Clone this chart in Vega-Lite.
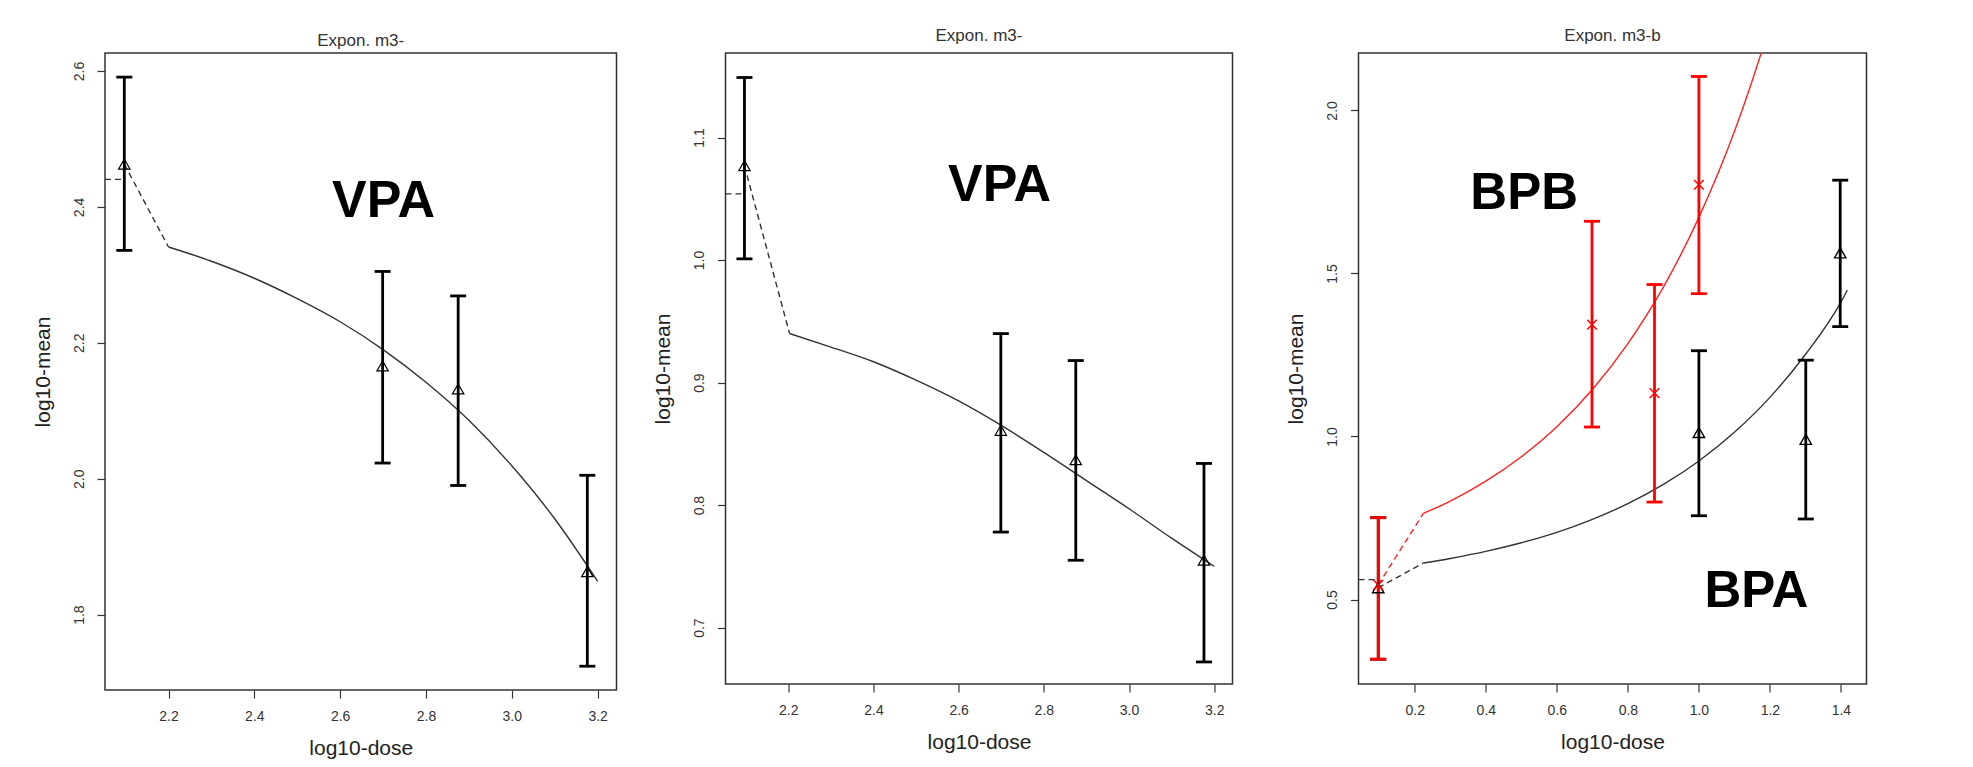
{
  "$schema": "https://vega.github.io/schema/vega-lite/v6.json",
  "background": "white",
  "padding": {"left": 31, "top": 26, "right": 5, "bottom": 5},
  "config": {
    "view": {"stroke": "#333", "strokeWidth": 1.5},
    "font": "Liberation Sans",
    "axis": {
      "grid": false, "domain": false,
      "tickColor": "#333", "tickSize": 8, "tickWidth": 1.2,
      "labelFont": "Liberation Sans", "labelFontSize": 14, "labelColor": "#333",
      "labelFlush": false, "labelBaseline": "middle", "labelPadding": 18,
      "titleFont": "Liberation Sans", "titleFontSize": 21, "titleFontWeight": "normal", "titleColor": "#222",
      "titleBaseline": "middle"
    },
    "axisX": {"titleY": 58},
    "axisY": {"labelAngle": -90, "labelAlign": "center", "titleX": -62},
    "title": {"font": "Liberation Sans", "fontSize": 17, "fontWeight": "normal", "color": "#333", "anchor": "middle"}
  },
  "datasets": {
    "p1pts": [
      {"x": 2.097, "y": 2.463, "lo": 2.336, "hi": 2.591},
      {"x": 2.699, "y": 2.166, "lo": 2.023, "hi": 2.305},
      {"x": 2.875, "y": 2.132, "lo": 1.990, "hi": 2.269},
      {"x": 3.176, "y": 1.863, "lo": 1.724, "hi": 2.005}
    ],
    "p1dash": [
      {"x": 2.052, "y": 2.4405, "part": "h"}, {"x": 2.09, "y": 2.4405, "part": "h"},
      {"x": 2.097, "y": 2.463, "part": "c"}, {"x": 2.2, "y": 2.341, "part": "c"}
    ],
    "p1fit": [
      {"x": 2.2, "y": 2.341}, {"x": 2.3, "y": 2.320}, {"x": 2.4, "y": 2.295}, {"x": 2.5, "y": 2.265},
      {"x": 2.6, "y": 2.231}, {"x": 2.7, "y": 2.190}, {"x": 2.8, "y": 2.142}, {"x": 2.9, "y": 2.086},
      {"x": 3.0, "y": 2.019}, {"x": 3.1, "y": 1.941}, {"x": 3.2, "y": 1.849}
    ],
    "p1lab": [{"x": 2.701, "y": 2.413, "label": "VPA"}],
    "p2pts": [
      {"x": 2.097, "y": 1.077, "lo": 1.001, "hi": 1.149},
      {"x": 2.699, "y": 0.861, "lo": 0.778, "hi": 0.940},
      {"x": 2.875, "y": 0.837, "lo": 0.755, "hi": 0.918},
      {"x": 3.176, "y": 0.755, "lo": 0.672, "hi": 0.834}
    ],
    "p2dash": [
      {"x": 2.0525, "y": 1.054, "part": "h"}, {"x": 2.09, "y": 1.054, "part": "h"},
      {"x": 2.097, "y": 1.077, "part": "c"}, {"x": 2.203, "y": 0.940, "part": "c"}
    ],
    "p2fit": [
      {"x": 2.203, "y": 0.940}, {"x": 2.3, "y": 0.929}, {"x": 2.4, "y": 0.917}, {"x": 2.5, "y": 0.902},
      {"x": 2.6, "y": 0.885}, {"x": 2.7, "y": 0.865}, {"x": 2.8, "y": 0.843}, {"x": 2.9, "y": 0.820},
      {"x": 3.0, "y": 0.797}, {"x": 3.1, "y": 0.773}, {"x": 3.2, "y": 0.750}
    ],
    "p2lab": [{"x": 2.696, "y": 1.064, "label": "VPA"}],
    "p3pts": [
      {"grp": "BPA", "x": 0.097, "y": 0.536, "lo": 0.317, "hi": 0.751},
      {"grp": "BPA", "x": 1.0, "y": 1.012, "lo": 0.757, "hi": 1.263},
      {"grp": "BPA", "x": 1.301, "y": 0.991, "lo": 0.747, "hi": 1.234},
      {"grp": "BPA", "x": 1.398, "y": 1.563, "lo": 1.337, "hi": 1.786},
      {"grp": "BPB", "x": 0.097, "y": 0.545, "lo": 0.317, "hi": 0.751},
      {"grp": "BPB", "x": 0.699, "y": 1.343, "lo": 1.029, "hi": 1.660},
      {"grp": "BPB", "x": 0.875, "y": 1.133, "lo": 0.799, "hi": 1.466},
      {"grp": "BPB", "x": 1.0, "y": 1.772, "lo": 1.438, "hi": 2.104}
    ],
    "p3dash": [
      {"grp": "BPA", "part": "BPA-h", "x": 0.0414, "y": 0.561}, {"grp": "BPA", "part": "BPA-h", "x": 0.09, "y": 0.561},
      {"grp": "BPA", "part": "BPA-c", "x": 0.097, "y": 0.536}, {"grp": "BPA", "part": "BPA-c", "x": 0.224, "y": 0.612},
      {"grp": "BPB", "part": "BPB-c", "x": 0.097, "y": 0.545}, {"grp": "BPB", "part": "BPB-c", "x": 0.224, "y": 0.764}
    ],
    "p3fit": [
      {"grp": "BPA", "x": 0.224, "y": 0.612}, {"grp": "BPA", "x": 0.3, "y": 0.626}, {"grp": "BPA", "x": 0.4, "y": 0.6475},
      {"grp": "BPA", "x": 0.5, "y": 0.674}, {"grp": "BPA", "x": 0.6, "y": 0.706}, {"grp": "BPA", "x": 0.7, "y": 0.746},
      {"grp": "BPA", "x": 0.8, "y": 0.794}, {"grp": "BPA", "x": 0.9, "y": 0.853}, {"grp": "BPA", "x": 1.0, "y": 0.925},
      {"grp": "BPA", "x": 1.1, "y": 1.013}, {"grp": "BPA", "x": 1.2, "y": 1.120}, {"grp": "BPA", "x": 1.3, "y": 1.2515},
      {"grp": "BPA", "x": 1.4, "y": 1.412}, {"grp": "BPA", "x": 1.418, "y": 1.449},
      {"grp": "BPB", "x": 0.224, "y": 0.764}, {"grp": "BPB", "x": 0.3, "y": 0.802}, {"grp": "BPB", "x": 0.4, "y": 0.863},
      {"grp": "BPB", "x": 0.5, "y": 0.938}, {"grp": "BPB", "x": 0.6, "y": 1.030}, {"grp": "BPB", "x": 0.7, "y": 1.144},
      {"grp": "BPB", "x": 0.8, "y": 1.285}, {"grp": "BPB", "x": 0.9, "y": 1.458}, {"grp": "BPB", "x": 1.0, "y": 1.672},
      {"grp": "BPB", "x": 1.1, "y": 1.935}, {"grp": "BPB", "x": 1.2, "y": 2.262}, {"grp": "BPB", "x": 1.25, "y": 2.451}
    ],
    "p3lab": [{"x": 0.508, "y": 1.752, "label": "BPB"}, {"x": 1.162, "y": 0.5325, "label": "BPA"}]
  },
  "spacing": 33.5,
  "bounds": "full",
  "hconcat": [
    {
      "width": 511.5, "height": 637,
      "title": {"text": "Expon. m3-", "offset": 3},
      "encoding": {
        "x": {"field": "x", "type": "quantitative", "scale": {"domain": [2.052, 3.244], "nice": false, "zero": false},
              "axis": {"title": "log10-dose", "values": [2.2, 2.4, 2.6, 2.8, 3.0, 3.2], "format": ".1f"}},
        "y": {"field": "y", "type": "quantitative", "scale": {"domain": [1.689, 2.6265], "nice": false, "zero": false},
              "axis": {"title": "log10-mean", "values": [1.8, 2.0, 2.2, 2.4, 2.6], "format": ".1f"}}
      },
      "layer": [
        {"data": {"name": "p1dash"}, "mark": {"type": "line", "strokeDash": [6, 4], "color": "#333", "strokeWidth": 1.4},
         "encoding": {"detail": {"field": "part"}}},
        {"data": {"name": "p1fit"}, "mark": {"type": "line", "color": "#333", "strokeWidth": 1.4, "interpolate": "monotone"}, "encoding": {}},
        {"data": {"name": "p1pts"}, "mark": {"type": "rule", "color": "#000", "strokeWidth": 2.8},
         "encoding": {"y": {"field": "lo", "type": "quantitative"}, "y2": {"field": "hi"}}},
        {"data": {"name": "p1pts"}, "mark": {"type": "tick", "orient": "horizontal", "size": 16, "thickness": 2.8, "color": "#000", "opacity": 1},
         "encoding": {"y": {"field": "lo", "type": "quantitative"}}},
        {"data": {"name": "p1pts"}, "mark": {"type": "tick", "orient": "horizontal", "size": 16, "thickness": 2.8, "color": "#000", "opacity": 1},
         "encoding": {"y": {"field": "hi", "type": "quantitative"}}},
        {"data": {"name": "p1pts"}, "mark": {"type": "point", "shape": "triangle-up", "size": 130, "filled": false, "color": "#000", "strokeWidth": 1.2, "opacity": 1}},
        {"data": {"name": "p1lab"}, "mark": {"type": "text", "fontSize": 52, "fontWeight": "bold", "font": "Liberation Sans", "color": "#000", "baseline": "middle", "dy": 3},
         "encoding": {"text": {"field": "label"}}}
      ]
    },
    {
      "spacing": 51,
      "bounds": "full",
      "hconcat": [
        {
          "width": 507, "height": 631,
          "title": {"text": "Expon. m3-", "offset": 8},
          "encoding": {
            "x": {"field": "x", "type": "quantitative", "scale": {"domain": [2.0525, 3.243], "nice": false, "zero": false},
                  "axis": {"title": "log10-dose", "values": [2.2, 2.4, 2.6, 2.8, 3.0, 3.2], "format": ".1f"}},
            "y": {"field": "y", "type": "quantitative", "scale": {"domain": [0.654, 1.169], "nice": false, "zero": false},
                  "axis": {"title": "log10-mean", "values": [0.7, 0.8, 0.9, 1.0, 1.1], "format": ".1f"}}
          },
          "layer": [
            {"data": {"name": "p2dash"}, "mark": {"type": "line", "strokeDash": [6, 4], "color": "#333", "strokeWidth": 1.4},
             "encoding": {"detail": {"field": "part"}}},
            {"data": {"name": "p2fit"}, "mark": {"type": "line", "color": "#333", "strokeWidth": 1.4, "interpolate": "monotone"}, "encoding": {}},
            {"data": {"name": "p2pts"}, "mark": {"type": "rule", "color": "#000", "strokeWidth": 2.8},
             "encoding": {"y": {"field": "lo", "type": "quantitative"}, "y2": {"field": "hi"}}},
            {"data": {"name": "p2pts"}, "mark": {"type": "tick", "orient": "horizontal", "size": 16, "thickness": 2.8, "color": "#000", "opacity": 1},
             "encoding": {"y": {"field": "lo", "type": "quantitative"}}},
            {"data": {"name": "p2pts"}, "mark": {"type": "tick", "orient": "horizontal", "size": 16, "thickness": 2.8, "color": "#000", "opacity": 1},
             "encoding": {"y": {"field": "hi", "type": "quantitative"}}},
            {"data": {"name": "p2pts"}, "mark": {"type": "point", "shape": "triangle-up", "size": 130, "filled": false, "color": "#000", "strokeWidth": 1.2, "opacity": 1}},
            {"data": {"name": "p2lab"}, "mark": {"type": "text", "fontSize": 52, "fontWeight": "bold", "font": "Liberation Sans", "color": "#000", "baseline": "middle", "dy": 3},
             "encoding": {"text": {"field": "label"}}}
          ]
        },
        {
          "width": 508, "height": 631,
          "title": {"text": "Expon. m3-b", "offset": 8},
          "encoding": {
            "x": {"field": "x", "type": "quantitative", "scale": {"domain": [0.0414, 1.472], "nice": false, "zero": false},
                  "axis": {"title": "log10-dose", "values": [0.2, 0.4, 0.6, 0.8, 1.0, 1.2, 1.4], "format": ".1f"}},
            "y": {"field": "y", "type": "quantitative", "scale": {"domain": [0.241, 2.176], "nice": false, "zero": false},
                  "axis": {"title": "log10-mean", "values": [0.5, 1.0, 1.5, 2.0], "format": ".1f"}}
          },
          "layer": [
            {"data": {"name": "p3dash"}, "mark": {"type": "line", "strokeDash": [6, 4], "strokeWidth": 1.4},
             "encoding": {"detail": {"field": "part"},
                          "color": {"field": "grp", "type": "nominal", "scale": {"domain": ["BPA", "BPB"], "range": ["#333333", "#ff2020"]}, "legend": null}}},
            {"data": {"name": "p3fit"}, "mark": {"type": "line", "strokeWidth": 1.4, "clip": true, "interpolate": "monotone"},
             "encoding": {"color": {"field": "grp", "type": "nominal", "scale": {"domain": ["BPA", "BPB"], "range": ["#333333", "#ff2020"]}, "legend": null}}},
            {"data": {"name": "p3pts"}, "mark": {"type": "rule", "strokeWidth": 2.8},
             "encoding": {"y": {"field": "lo", "type": "quantitative"}, "y2": {"field": "hi"},
                          "stroke": {"field": "grp", "type": "nominal", "scale": {"domain": ["BPA", "BPB"], "range": ["#000000", "#ff0000"]}, "legend": null}}},
            {"data": {"name": "p3pts"}, "mark": {"type": "tick", "orient": "horizontal", "size": 16, "thickness": 2.8, "opacity": 1},
             "encoding": {"y": {"field": "lo", "type": "quantitative"},
                          "fill": {"field": "grp", "type": "nominal", "scale": {"domain": ["BPA", "BPB"], "range": ["#000000", "#ff0000"]}, "legend": null}}},
            {"data": {"name": "p3pts"}, "mark": {"type": "tick", "orient": "horizontal", "size": 16, "thickness": 2.8, "opacity": 1},
             "encoding": {"y": {"field": "hi", "type": "quantitative"},
                          "fill": {"field": "grp", "type": "nominal", "scale": {"domain": ["BPA", "BPB"], "range": ["#000000", "#ff0000"]}, "legend": null}}},
            {"data": {"name": "p3pts"}, "mark": {"type": "point", "size": 130, "filled": false, "strokeWidth": 1.4, "opacity": 1},
             "encoding": {"stroke": {"field": "grp", "type": "nominal", "scale": {"domain": ["BPA", "BPB"], "range": ["#000000", "#ff0000"]}, "legend": null},
                          "shape": {"field": "grp", "type": "nominal", "scale": {"domain": ["BPA", "BPB"], "range": ["triangle-up", "M-0.85,-0.85L0.85,0.85M-0.85,0.85L0.85,-0.85"]}, "legend": null}}},
            {"data": {"name": "p3lab"}, "mark": {"type": "text", "fontSize": 51, "fontWeight": "bold", "font": "Liberation Sans", "color": "#000", "baseline": "middle", "dy": 3},
             "encoding": {"text": {"field": "label"}}}
          ]
        }
      ]
    }
  ]
}
